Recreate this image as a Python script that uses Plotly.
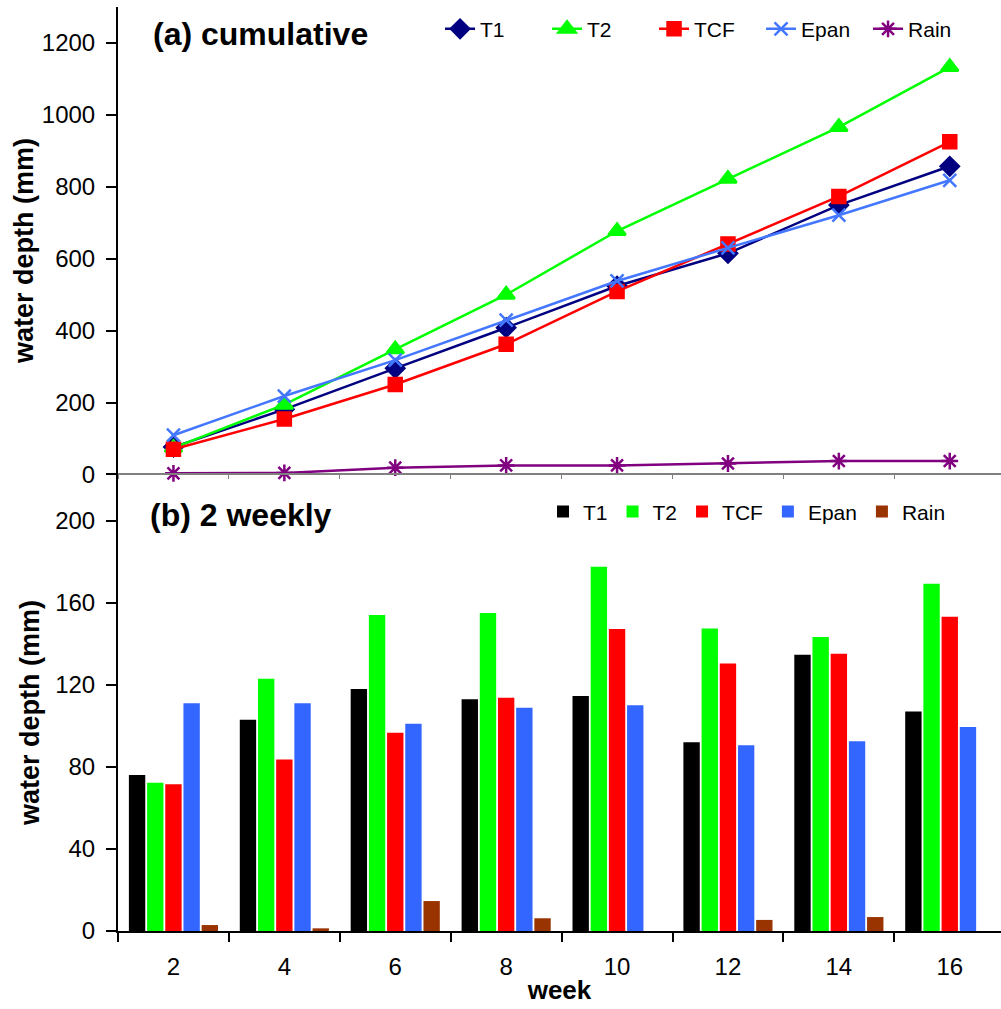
import plotly.graph_objects as go

weeks = ["2", "4", "6", "8", "10", "12", "14", "16"]

# (a) cumulative water depth (mm)
cum_T1 = [76, 181, 295, 408, 524, 615, 749, 857]
cum_T2 = [74, 194, 348, 500, 677, 822, 966, 1133]
cum_TCF = [70, 154, 250, 362, 509, 641, 773, 925]
cum_Epan = [109, 218, 318, 429, 538, 630, 721, 818]
cum_Rain = [2.9, 4.2, 18.8, 25, 25, 30.4, 37.2, 37.2]

# (b) 2-weekly water depth (mm)
wk_T1 = [76, 103, 118, 113, 114.6, 92, 134.6, 107]
wk_T2 = [72.3, 123, 154, 155, 177.6, 147.5, 143.3, 169.3]
wk_TCF = [71.5, 83.6, 96.6, 113.7, 147.2, 130.4, 135.1, 153.2]
wk_Epan = [111, 111, 101, 108.8, 110, 90.6, 92.5, 99.4]
wk_Rain = [2.9, 1.3, 14.6, 6.2, 0, 5.4, 6.8, 0]

FONT = "Liberation Sans, Arial, sans-serif"

fig = go.Figure()

line_specs = [
    ("T1", cum_T1, "#000080", "diamond", 14),
    ("T2", cum_T2, "#00FF00", "triangle-up", 15),
    ("TCF", cum_TCF, "#FF0000", "square", 13),
    ("Epan", cum_Epan, "#4477FF", "x-thin-open", 13),
    ("Rain", cum_Rain, "#800080", "asterisk-open", 14),
]
for name, vals, col, sym, sz in line_specs:
    fig.add_trace(go.Scatter(
        x=weeks, y=vals, name=name, mode="lines+markers",
        line=dict(color=col, width=2.5),
        marker=dict(symbol=sym, size=sz, color=col, line=dict(color=col, width=2.5)),
        xaxis="x", yaxis="y", legend="legend",
    ))

bar_specs = [
    ("T1", wk_T1, "#000000"),
    ("T2", wk_T2, "#00FF00"),
    ("TCF", wk_TCF, "#FF0000"),
    ("Epan", wk_Epan, "#3366FF"),
    ("Rain", wk_Rain, "#993300"),
]
for name, vals, col in bar_specs:
    fig.add_trace(go.Bar(
        x=weeks, y=vals, name=name, marker=dict(color=col, line=dict(width=0)),
        xaxis="x2", yaxis="y2", legend="legend2",
    ))

split = 0.4729
top_zero_pos = split + (54.6 / 1354.6) * (1 - split)

fig.update_layout(
    width=1001, height=1009,
    margin=dict(l=118, r=0, t=7, b=78),
    paper_bgcolor="white", plot_bgcolor="white",
    font=dict(family=FONT, color="black", size=24),
    barmode="group", bargap=0.18, bargroupgap=0.1,
    showlegend=True,
    xaxis=dict(
        domain=[0, 1], range=[-0.5, 7.462], type="category",
        anchor="free", position=top_zero_pos,
        showline=True, linecolor="#808080", linewidth=1.5,
        ticks="outside", ticklen=4, tickcolor="#808080", tickwidth=1,
        tickson="boundaries", showticklabels=False, showgrid=False, zeroline=False,
    ),
    yaxis=dict(
        domain=[split, 1], range=[-54.6, 1300], anchor="x",
        tickvals=[0, 200, 400, 600, 800, 1000, 1200],
        showline=True, linecolor="black", linewidth=2,
        ticks="outside", ticklen=10, tickwidth=2, tickcolor="black",
        ticklabelstandoff=6,
        showgrid=False, zeroline=False,
        title=dict(text="<b>water depth (mm)</b>", font=dict(size=27), standoff=0),
    ),
    xaxis2=dict(
        domain=[0, 1], range=[-0.5, 7.462], type="category", anchor="y2",
        showline=True, linecolor="black", linewidth=2,
        ticks="outside", ticklen=9, tickwidth=2, tickcolor="black",
        tickson="boundaries", ticklabelstandoff=13,
        showgrid=False, zeroline=False,
        title=dict(text="<b>week</b>", font=dict(size=26), standoff=2),
    ),
    yaxis2=dict(
        domain=[0, split], range=[0, 213], anchor="x2",
        tickvals=[0, 40, 80, 120, 160, 200],
        showline=True, linecolor="black", linewidth=2,
        ticks="outside", ticklen=10, tickwidth=2, tickcolor="black",
        ticklabelstandoff=6,
        showgrid=False, zeroline=False,
        title=dict(text="<b>water depth (mm)</b>", font=dict(size=27), standoff=8),
    ),
    legend=dict(
        orientation="h", x=0.9706, xanchor="right", y=0.976, yanchor="middle",
        font=dict(size=21), bgcolor="rgba(0,0,0,0)", itemwidth=30,
        entrywidth=62, entrywidthmode="pixels",
    ),
    legend2=dict(
        orientation="h", x=0.9434, xanchor="right", y=0.4535, yanchor="middle",
        font=dict(size=21), bgcolor="rgba(0,0,0,0)", itemwidth=30,
    ),
    annotations=[
        dict(text="<b>(a) cumulative</b>", xref="paper", yref="paper",
             x=0.0374, y=0.9708, xanchor="left", yanchor="middle",
             showarrow=False, font=dict(size=32)),
        dict(text="<b>(b) 2 weekly</b>", xref="paper", yref="paper",
             x=0.034, y=0.450, xanchor="left", yanchor="middle",
             showarrow=False, font=dict(size=32)),
    ],
)

fig.write_html("out.html")
